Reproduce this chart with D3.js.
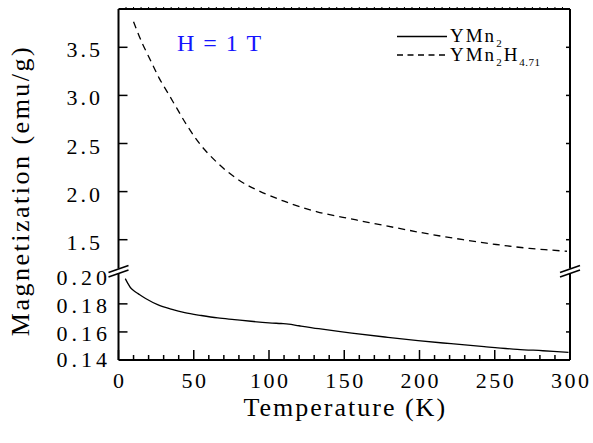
<!DOCTYPE html>
<meta charset="utf-8">
<title>YMn2 magnetization</title>
<style>
  body { margin: 0; background: #fff; }
</style>
<body>
<div id="container"></div>
<script src="https://cdn.jsdelivr.net/npm/d3@7/dist/d3.min.js"></script>
<script>

const width = 593;
const height = 443;

// YMn2H4.71 (dashed, upper part of the broken axis)
const hydT = [10, 15, 22, 27, 33, 39, 45, 51, 57, 65, 73, 83, 93, 110, 132, 158, 184, 206, 229, 251, 273, 298];
const hydM = [3.765, 3.57, 3.34, 3.18, 3.02, 2.86, 2.70, 2.56, 2.44, 2.31, 2.20, 2.09, 2.01, 1.90, 1.79, 1.705, 1.625, 1.56, 1.50, 1.45, 1.41, 1.38];

// YMn2 (solid, lower part)
const pureT = [4.5, 6, 8, 10, 13, 18, 26, 35, 44, 55, 66, 77, 88, 100, 108, 113, 120, 133, 155, 177, 199, 221, 243, 265, 282, 299];
const pureM = [0.198, 0.195, 0.1915, 0.1895, 0.1873, 0.1838, 0.1794, 0.1762, 0.1737, 0.1717, 0.170, 0.1688, 0.1676, 0.1665, 0.1660, 0.1656, 0.1644, 0.1623, 0.1592, 0.1564, 0.1538, 0.1516, 0.1495, 0.1476, 0.1466, 0.1455];

const xTicks = [0, 50, 100, 150, 200, 250, 300];
const upperTicks = [1.5, 2.0, 2.5, 3.0, 3.5];
const lowerTicks = [0.14, 0.16, 0.18, 0.20];

const pLeft = 118.5, pRight = 570, pTop = 9, pBottom = 360;
const breakTop = 268.5, breakBot = 273;

const x = d3.scaleLinear().domain([0, 300]).range([pLeft, pRight]);
const yUp = d3.scaleLinear().domain([1.5, 3.5]).range([239.7, 47.3]);
const yLo = d3.scaleLinear().domain([0.14, 0.20]).range([pBottom, 275.8]);

const svg = d3.select('#container').append('svg')
  .attr('width', width)
  .attr('height', height)
  .attr('font-family', 'Liberation Serif');

// frame, broken on both sides
const frame = svg.append('g').attr('stroke', '#000').attr('stroke-width', 2).attr('fill', 'none');
frame.append('line').attr('x1', pLeft).attr('x2', pRight).attr('y1', pTop).attr('y2', pTop);
frame.append('line').attr('x1', pLeft).attr('x2', pRight).attr('y1', pBottom).attr('y2', pBottom);
[pLeft, pRight].forEach(px => {
  frame.append('line').attr('x1', px).attr('x2', px).attr('y1', pTop).attr('y2', breakTop);
  frame.append('line').attr('x1', px).attr('x2', px).attr('y1', breakBot).attr('y2', pBottom);
  [breakTop + 0.5, breakBot + 0.5].forEach(by => {
    frame.append('line')
      .attr('x1', px - 10).attr('y1', by + 3.5)
      .attr('x2', px + 10).attr('y2', by - 3.5)
      .attr('stroke-width', 1.6);
  });
});

// x ticks
const tickG = svg.append('g').attr('stroke', '#000').attr('stroke-width', 1.5);
d3.range(0, 301, 10).forEach(t => {
  const major = t % 50 === 0;
  tickG.append('line')
    .attr('x1', x(t)).attr('x2', x(t))
    .attr('y1', pBottom).attr('y2', pBottom - (major ? 10 : 5));
});
d3.range(5, 300, 5).forEach(t => {
  tickG.append('line')
    .attr('x1', x(t)).attr('x2', x(t))
    .attr('y1', pTop).attr('y2', pTop - 2)
    .attr('stroke-width', 1);
});

// y ticks
upperTicks.forEach(v => {
  tickG.append('line').attr('x1', pLeft).attr('x2', pLeft + 9).attr('y1', yUp(v)).attr('y2', yUp(v));
  tickG.append('line').attr('x1', pRight).attr('x2', pRight - 4).attr('y1', yUp(v)).attr('y2', yUp(v));
});
lowerTicks.filter(v => v > 0.14 && v < 0.2).forEach(v => {
  tickG.append('line').attr('x1', pLeft).attr('x2', pLeft + 9).attr('y1', yLo(v)).attr('y2', yLo(v));
  tickG.append('line').attr('x1', pRight).attr('x2', pRight - 4).attr('y1', yLo(v)).attr('y2', yLo(v));
});

// tick labels
const fmt1 = d3.format('.1f'), fmt2 = d3.format('.2f');
svg.append('g').selectAll('text').data(xTicks).join('text')
  .attr('x', d => x(d) + 1.2)
  .attr('y', 388)
  .attr('text-anchor', 'middle')
  .attr('font-size', 22)
  .attr('letter-spacing', 2.5)
  .text(d => d);

svg.append('g').selectAll('text').data(upperTicks).join('text')
  .attr('x', 103)
  .attr('y', d => yUp(d) + 10)
  .attr('text-anchor', 'end')
  .attr('font-size', 22)
  .attr('letter-spacing', 3)
  .text(d => fmt1(d));

svg.append('g').selectAll('text').data(lowerTicks).join('text')
  .attr('x', 111)
  .attr('y', d => yLo(d) + (d === 0.14 ? 7 : 9))
  .attr('text-anchor', 'end')
  .attr('font-size', 22)
  .attr('letter-spacing', 4)
  .text(d => fmt2(d));

// axis titles
svg.append('text')
  .attr('x', (pLeft + pRight) / 2 + 1)
  .attr('y', 416)
  .attr('text-anchor', 'middle')
  .attr('font-size', 26)
  .attr('letter-spacing', 2)
  .text('Temperature (K)');

svg.append('text')
  .attr('transform', `translate(29,${(pTop + pBottom) / 2 + 6}) rotate(-90)`)
  .attr('text-anchor', 'middle')
  .attr('font-size', 26)
  .attr('letter-spacing', 2.5)
  .text('Magnetization (emu/g)');

// curves
const lineUp = d3.line().x(d => x(d[0])).y(d => yUp(d[1])).curve(d3.curveCatmullRom);
const lineLo = d3.line().x(d => x(d[0])).y(d => yLo(d[1])).curve(d3.curveCatmullRom);

svg.append('path')
  .attr('d', lineUp(d3.zip(hydT, hydM)))
  .attr('fill', 'none').attr('stroke', '#000').attr('stroke-width', 1.3)
  .attr('stroke-dasharray', '7,5');

svg.append('path')
  .attr('d', lineLo(d3.zip(pureT, pureM)))
  .attr('fill', 'none').attr('stroke', '#000').attr('stroke-width', 1.3);

// field label
svg.append('text')
  .attr('x', 177).attr('y', 50.5)
  .attr('font-size', 24)
  .attr('letter-spacing', 1.5)
  .attr('fill', '#1414ff')
  .text('H = 1 T');

// legend
const legend = svg.append('g');
legend.append('line').attr('x1', 397).attr('x2', 447).attr('y1', 36.5).attr('y2', 36.5)
  .attr('stroke', '#000').attr('stroke-width', 1.3);
legend.append('line').attr('x1', 397).attr('x2', 447).attr('y1', 55).attr('y2', 55)
  .attr('stroke', '#000').attr('stroke-width', 1.3).attr('stroke-dasharray', '6,4.5');

const t1 = legend.append('text').attr('x', 450).attr('y', 42).attr('font-size', 19).attr('letter-spacing', 2);
t1.append('tspan').text('YMn');
t1.append('tspan').attr('font-size', 11).attr('dy', 5).text('2');

const t2 = legend.append('text').attr('x', 450).attr('y', 61).attr('font-size', 19).attr('letter-spacing', 2);
t2.append('tspan').text('YMn');
t2.append('tspan').attr('font-size', 11).attr('dy', 5).text('2');
t2.append('tspan').attr('dy', -5).text('H');
t2.append('tspan').attr('font-size', 11).attr('dy', 5).attr('letter-spacing', 0.5).text('4.71');

</script>
</body>
